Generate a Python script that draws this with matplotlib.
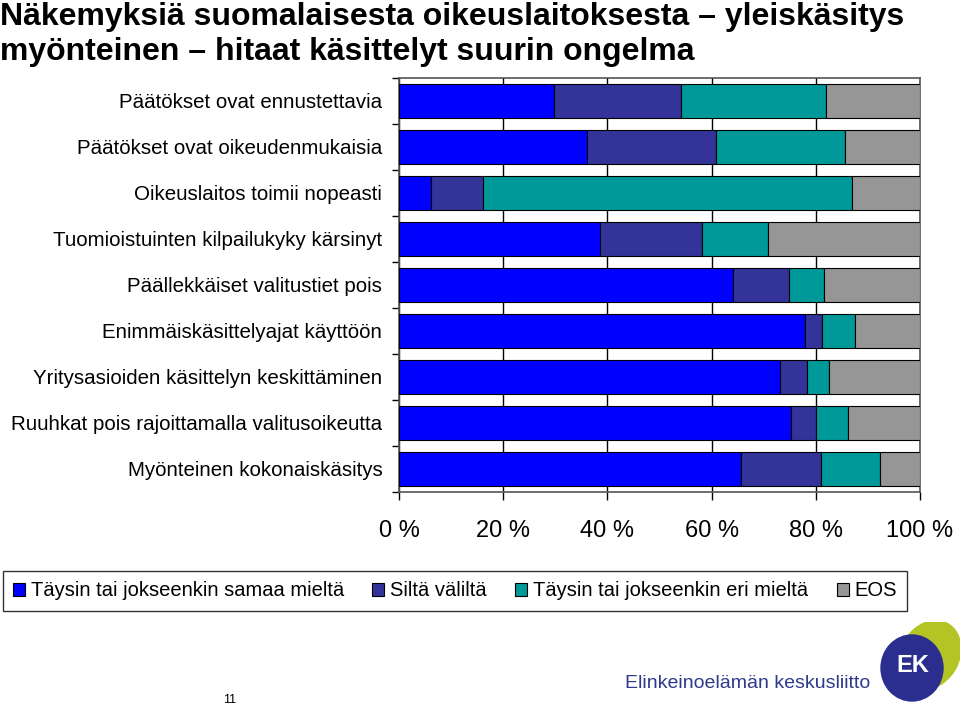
import matplotlib
matplotlib.use("Agg")
import matplotlib.pyplot as plt
import numpy as np
from matplotlib.patches import Ellipse

plt.rcParams['font.family'] = ['Liberation Sans', 'DejaVu Sans']

categories = [
    "Päätökset ovat ennustettavia",
    "Päätökset ovat oikeudenmukaisia",
    "Oikeuslaitos toimii nopeasti",
    "Tuomioistuinten kilpailukyky kärsinyt",
    "Päällekkäiset valitustiet pois",
    "Enimmäiskäsittelyajat käyttöön",
    "Yritysasioiden käsittelyn keskittäminen",
    "Ruuhkat pois rajoittamalla valitusoikeutta",
    "Myönteinen kokonaiskäsitys",
]
samaa = [29.7, 36.0, 6.2, 38.6, 64.1, 77.9, 73.2, 75.3, 65.6]
silta = [24.4, 24.8, 10.0, 19.5, 10.8, 3.3, 5.1, 4.8, 15.4]
eri = [27.9, 24.8, 70.7, 12.7, 6.6, 6.3, 4.2, 6.0, 11.4]
eos = [18.0, 14.4, 13.1, 29.2, 18.5, 12.5, 17.5, 13.9, 7.6]
series_names = ["Täysin tai jokseenkin samaa mieltä", "Siltä väliltä",
                "Täysin tai jokseenkin eri mieltä", "EOS"]
colors = ["#0000FF", "#333399", "#009999", "#969696"]
xticks = [0, 20, 40, 60, 80, 100]
xticklabels = ["0 %", "20 %", "40 %", "60 %", "80 %", "100 %"]

fig = plt.figure(figsize=(9.6, 7.07), dpi=100)
ax = fig.add_axes([399/960, 1-492/707, 521/960, 414/707])

n = len(categories)
y = np.arange(n)
left = np.zeros(n)
handles = []
for vals, c, name in zip([samaa, silta, eri, eos], colors, series_names):
    vals = np.array(vals)
    b = ax.barh(y, vals, left=left, height=0.72, color=c, edgecolor="black",
                linewidth=0.8, label=name, zorder=3)
    handles.append(b)
    left += vals

ax.set_xlim(0, 100)
ax.set_ylim(n - 0.5, -0.5)
ax.set_xticks(xticks)
ax.set_xticklabels(xticklabels, fontsize=17)
ax.tick_params(axis='x', direction='out', length=6, width=1, pad=14)
ax.set_yticks(y)
ax.set_yticklabels(categories, fontsize=14.8)
ax.tick_params(axis='y', which='major', length=0, pad=12)
ax.set_yticks(np.arange(-0.5, n, 1.0), minor=True)
ax.tick_params(axis='y', which='minor', direction='out', length=5, width=1)
ax.grid(axis='x', color='black', linewidth=1, zorder=0)
ax.set_axisbelow(True)
for s in ax.spines.values():
    s.set_color('#555555')
    s.set_linewidth(1.2)

# Title
fig.text(0.0, 1-17/707, "Näkemyksiä suomalaisesta oikeuslaitoksesta – yleiskäsitys",
         fontsize=23, fontweight='bold', va='center', ha='left')
fig.text(0.0, 1-52/707, "myönteinen – hitaat käsittelyt suurin ongelma",
         fontsize=23, fontweight='bold', va='center', ha='left')

# Legend
leg = fig.legend(handles=handles, labels=series_names, loc='center',
                 bbox_to_anchor=(455/960, 1-591/707), ncol=4, fontsize=14.5,
                 frameon=True, fancybox=False, edgecolor='black',
                 handlelength=0.6, handleheight=0.6, handletextpad=0.3,
                 columnspacing=1.4, borderpad=0.5)
leg.get_frame().set_linewidth(1.0)

# Page number
fig.text(230/960, 1-700/707, "11", fontsize=9, ha='center', va='center')

# Logo
fig.text(625/960, 1-683/707, "Elinkeinoelämän keskusliitto", fontsize=14,
         color="#2E3A8C", ha='left', va='center', fontstretch='condensed')
lax = fig.add_axes([875/960, 0, 85/960, 85/707])
lax.set_xlim(0, 85)
lax.set_ylim(0, 85)
lax.axis('off')
lax.add_patch(Ellipse((55, 52), 58, 72, angle=-30, color="#B5C425"))
lax.add_patch(Ellipse((37, 39), 62, 66, angle=0, color="#2B2E8E"))
lax.text(38, 41, "EK", color="white", fontsize=17, fontweight='bold',
         ha='center', va='center')

fig.savefig("out.png", dpi=100)
